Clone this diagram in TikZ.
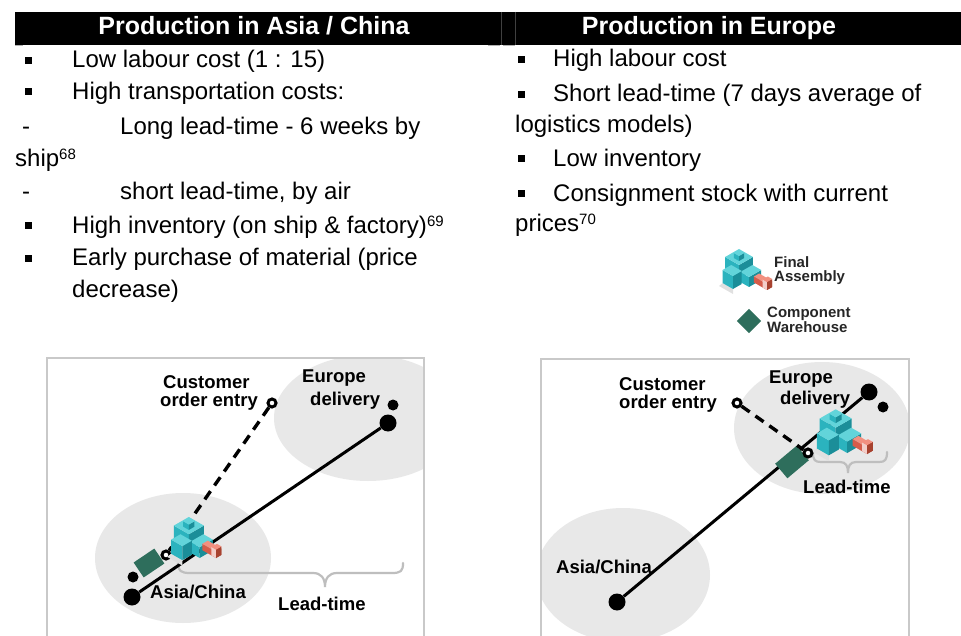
\documentclass[tikz,border=0pt]{standalone}
\usepackage{fontspec}
\setmainfont{Liberation Sans}
\definecolor{plantTop}{HTML}{62D4DA}
\definecolor{plantLeft}{HTML}{2BB3BE}
\definecolor{plantRight}{HTML}{1B8E99}
\definecolor{truckTop}{HTML}{F29080}
\definecolor{truckSide}{HTML}{D65C4A}
\definecolor{truckDark}{HTML}{A8422F}
\definecolor{whgreen}{HTML}{2E6E5C}
\definecolor{blob}{HTML}{E8E8E8}
\definecolor{framegray}{HTML}{C9C9C9}
\definecolor{bracegray}{HTML}{BEBEBE}
% footnote number
\newcommand{\fnote}[1]{\raisebox{7.5pt}{\fontsize{15}{15}\selectfont #1}}
% iso box: front corner, width, depth, height, top, left and right colour
\newcommand{\isobox}[7]{%
  \fill[#6] #1 -- ++({-0.87*#3},{-0.5*#3}) -- ++(0,{-#4}) -- ++({0.87*#3},{0.5*#3}) -- cycle;
  \fill[#7] #1 -- ++({0.87*#2},{-0.5*#2}) -- ++(0,{-#4}) -- ++({-0.87*#2},{0.5*#2}) -- cycle;
  \fill[#5] #1 ++(0,{-#4}) -- ++({0.87*#2},{-0.5*#2}) -- ++({-0.87*#3},{-0.5*#3}) -- ++({-0.87*#2},{0.5*#2}) -- cycle;}
\begin{document}
\begin{tikzpicture}[x=1pt,y=-1pt,
  headtext/.style={text=white,font=\fontsize{25}{25}\selectfont\bfseries,inner sep=0,anchor=base},
  bodytext/.style={font=\fontsize{24}{24}\selectfont,inner sep=0,anchor=base west},
  bulletsq/.style={fill=black,minimum size=7pt,inner sep=0},
  labeltext/.style={font=\fontsize{18.5}{18.5}\selectfont\bfseries,inner sep=0,anchor=base west},
  legendtext/.style={font=\fontsize{15}{15}\selectfont\bfseries,inner sep=0,anchor=base west,text=black!85},
  bigdot/.style={circle,fill=black,minimum size=17pt,inner sep=0},
  smalldot/.style={circle,fill=black,minimum size=11pt,inner sep=0},
  ordermark/.style={circle,draw=black,line width=3pt,fill=white,minimum size=8pt,inner sep=0},
  route/.style={line width=3pt},
  orderroute/.style={line width=3.4pt,dash pattern=on 10pt off 7pt},
  warehouse/.style={fill=whgreen,minimum width=25pt,minimum height=18pt,inner sep=0},
  leadbrace/.style={draw=bracegray,line width=2.2pt,line cap=round},
  blobfill/.style={fill=blob},
  plant/.pic={
    \fill[black!12] (-8,7) -- (-22,-1) -- (-18.4,-4) -- (-8,2) -- cycle;
    \isobox{(-2,-8)}{16}{16}{14}{plantTop}{plantLeft}{plantRight}
    \isobox{(-2,-26)}{6}{6}{5}{plantTop}{plantLeft}{plantRight}
    \isobox{(8,0)}{14}{10}{10}{plantTop}{plantLeft}{plantRight}
    \isobox{(-8,2)}{10}{12}{13}{plantTop}{plantLeft}{plantRight}
  },
  truck/.pic={
    \isobox{(0,0)}{6}{15}{6}{truckTop}{truckSide}{truckDark}
    \isobox{(0,0)}{6}{5}{8}{truckTop}{white!70!truckSide}{truckDark}
  }]
\useasboundingbox (0,0) rectangle (961,636);
\clip (0,0) rectangle (961,636);

% Header bars
\fill (15,12) rectangle (961,45);
\draw[black!75, line width=0.8pt] (501,12) -- (501,45) (515,12) -- (515,45);
\draw[gray!60, line width=1pt] (15,45.5) -- (23,45.5) (488,45.5) -- (500,45.5) (503,45.5) -- (515,45.5);
\node[headtext] (headL) at (254,35) {Production in Asia / China};
\node[headtext] (headR) at (709,35) {Production in Europe};

% Left column
\node[bulletsq] (bL1) at (28,61) {};
\node[bodytext] (tL1) at (72,68) {Low labour cost (1 : 15)};
\node[bulletsq] (bL2) at (28,92) {};
\node[bodytext] (tL2) at (72,100) {High transportation costs:};
\node[bodytext] (dL3) at (22,135) {-};
\node[bodytext] (tL3) at (120,135) {Long lead-time - 6 weeks by};
\node[bodytext] (tL4) at (15,167) {ship\fnote{68}};
\node[bodytext] (dL5) at (22,200) {-};
\node[bodytext] (tL5) at (120,200) {short lead-time, by air};
\node[bulletsq] (bL6) at (28,226) {};
\node[bodytext] (tL6) at (72,234) {High inventory (on ship \& factory)\fnote{69}};
\node[bulletsq] (bL7) at (28,259) {};
\node[bodytext] (tL7) at (72,266) {Early purchase of material (price};
\node[bodytext] (tL8) at (72,298) {decrease)};

% Right column
\node[bulletsq] (bR1) at (521,60) {};
\node[bodytext] (tR1) at (553,67) {High labour cost};
\node[bulletsq] (bR2) at (521,95) {};
\node[bodytext] (tR2) at (553,102) {Short lead-time (7 days average of};
\node[bodytext] (tR3) at (515,133) {logistics models)};
\node[bulletsq] (bR4) at (521,159) {};
\node[bodytext] (tR4) at (553,167) {Low inventory};
\node[bulletsq] (bR5) at (521,194) {};
\node[bodytext] (tR5) at (553,202) {Consignment stock with current};
\node[bodytext] (tR6) at (515,232) {prices\fnote{70}};

% Legend
\pic (legPlant) at (741,287) {plant};
\pic (legTruck) at (767,290) {truck};
\node[legendtext] (legFA1) at (774,268) {Final};
\node[legendtext] (legFA2) at (774,282) {Assembly};
\node[warehouse, minimum width=17pt, minimum height=17pt, rotate=45] (legWh) at (749,321) {};
\node[legendtext] (legCW1) at (767,318) {Component};
\node[legendtext] (legCW2) at (767,332) {Warehouse};

% Left diagram: regions and frame
\fill[white] (47,358) rectangle (424,645);
\begin{scope}
  \clip (47,358) rectangle (424,645);
  \fill[blobfill] (183,558) ellipse [x radius=88pt, y radius=65pt];
  \fill[blobfill] (368,418) ellipse [x radius=94pt, y radius=63pt];
\end{scope}
\draw[framegray, line width=1.3pt] (47,358) rectangle (424,645);
% Left diagram: lead-time brace
\draw[leadbrace] (178,563) .. controls (178,571) and (181,573) .. (190,573) -- (313,573)
  .. controls (321,573) and (325,578) .. (325,587) .. controls (325,578) and (329,573) .. (337,573)
  -- (392,573) .. controls (401,573) and (403,571) .. (403,563);
% Left diagram: chain points
\node[warehouse, rotate=34] (whL) at (149,563) {};
\node[bigdot] (asiaL) at (132,597) {};
\node[bigdot] (euL) at (388,423) {};
\node[smalldot] (asiaLs) at (133,577) {};
\node[smalldot] (euLs) at (393,405) {};
\node[ordermark] (coeL) at (272,403) {};
\node[ordermark] (decL) at (166,555) {};
\draw[route] (asiaL) -- (euL);
\draw[orderroute] (coeL) -- (decL);
\pic[scale=1.08] (plantL) at (191,558) {plant};
\pic[scale=1.05] (truckL) at (216,558) {truck};
% Left diagram: labels
\node[labeltext] (custL1) at (163,388) {Customer};
\node[labeltext] (custL2) at (160,406) {order entry};
\node[labeltext] (euroL1) at (302,382) {Europe};
\node[labeltext] (euroL2) at (310,405) {delivery};
\node[labeltext] (asiaLab) at (150,598) {Asia/China};
\node[labeltext] (leadL) at (278,610) {Lead-time};

% Right diagram: regions and frame
\fill[white] (541,359) rectangle (909,645);
\begin{scope}
  \clip (541,359) rectangle (909,645);
  \fill[blobfill] (623,575) ellipse [x radius=87pt, y radius=67pt];
  \fill[blobfill] (822,428) ellipse [x radius=88pt, y radius=66pt];
\end{scope}
\draw[framegray, line width=1.3pt] (541,359) rectangle (909,645);
% Right diagram: lead-time brace
\draw[leadbrace] (813,453) .. controls (813,460) and (815,462) .. (821,462) -- (840,462)
  .. controls (846,462) and (848,466) .. (848,473) .. controls (848,466) and (850,462) .. (856,462)
  -- (879,462) .. controls (885,462) and (887,460) .. (887,452);
% Right diagram: chain points
\node[bigdot] (asiaR) at (617,602) {};
\node[bigdot] (euR) at (869,392) {};
\node[smalldot] (euRs) at (883,407) {};
\draw[route] (asiaR) -- (euR);
\node[warehouse, rotate=40, minimum width=28pt, minimum height=19pt] (whR) at (792,462) {};
\node[ordermark] (coeR) at (737,403) {};
\node[ordermark] (decR) at (808,453) {};
\draw[orderroute] (coeR) -- (decR);
\pic[scale=1.15] (plantR) at (838,453) {plant};
\pic[scale=1.1] (truckR) at (867,454) {truck};
% Right diagram: labels
\node[labeltext] (custR1) at (619,390) {Customer};
\node[labeltext] (custR2) at (619,408) {order entry};
\node[labeltext] (euroR1) at (769,383) {Europe};
\node[labeltext] (euroR2) at (780,404) {delivery};
\node[labeltext] (asiaRab) at (556,573) {Asia/China};
\node[labeltext] (leadR) at (803,493) {Lead-time};
\end{tikzpicture}
\end{document}
